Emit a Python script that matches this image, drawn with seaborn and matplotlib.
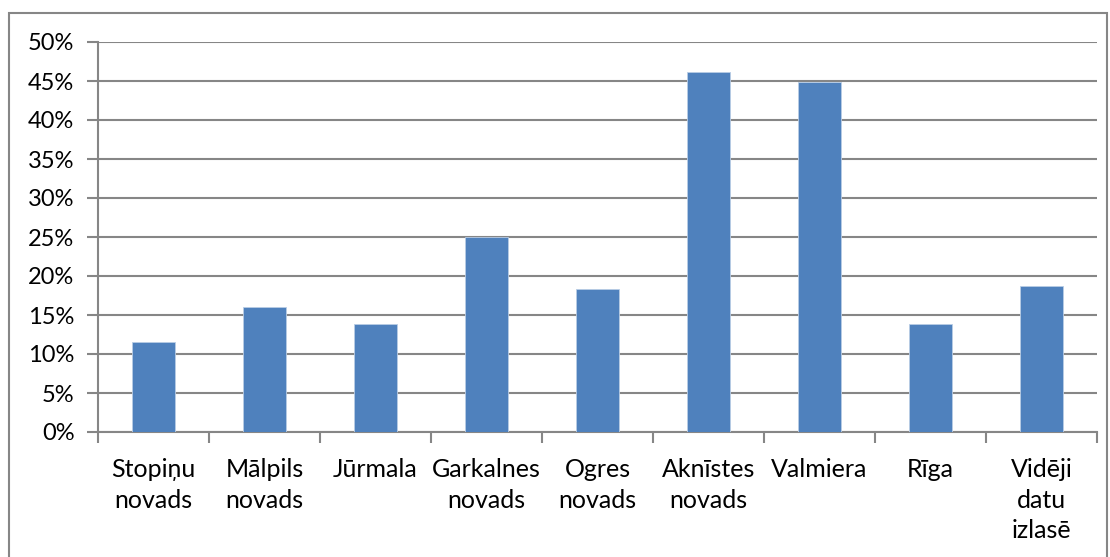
import matplotlib
matplotlib.use("Agg")
import matplotlib.pyplot as plt
from matplotlib.patches import Rectangle
from matplotlib.ticker import FixedLocator, PercentFormatter
import seaborn as sns
import pandas as pd

categories = ["Stopiņu\nnovads", "Mālpils\nnovads", "Jūrmala", "Garkalnes\nnovads",
              "Ogres\nnovads", "Aknīstes\nnovads", "Valmiera", "Rīga",
              "Vidēji\ndatu\nizlasē"]
shares = [0.115, 0.160, 0.139, 0.250, 0.183, 0.461, 0.449, 0.139, 0.187]
y_ticks = [0.0, 0.05, 0.10, 0.15, 0.20, 0.25, 0.30, 0.35, 0.40, 0.45, 0.50]

sns.set_theme(style="white")
plt.rcParams["font.family"] = ["Lato", "DejaVu Sans"]

grey = "#868686"
bar_color = "#4F81BD"

df = pd.DataFrame({"region": categories, "share": shares})

fig = plt.figure(figsize=(11.10, 5.57), dpi=100)
ax = fig.add_axes([98 / 1110, 1 - 432 / 557, (1097 - 98) / 1110, (432 - 42) / 557])

sns.barplot(data=df, x="region", y="share", color=bar_color, saturation=1,
            width=0.39, ax=ax, zorder=3, edgecolor="#B9CDE5", linewidth=0.6)

ax.set_xlim(-0.5, len(categories) - 0.5)
ax.set_ylim(0, 0.5)
ax.yaxis.set_major_locator(FixedLocator(y_ticks))
ax.yaxis.set_major_formatter(PercentFormatter(1.0, decimals=0))
ax.grid(axis="y", color=grey, linewidth=1.5, zorder=0)
ax.set_axisbelow(True)

for side in ["top", "right"]:
    ax.spines[side].set_visible(False)
for side in ["left", "bottom"]:
    ax.spines[side].set_color(grey)
    ax.spines[side].set_linewidth(1.5)

ax.set_xlabel("")
ax.set_ylabel("")
ax.tick_params(axis="y", which="major", length=8, width=1.5, color=grey,
               labelsize=17, pad=9, labelcolor="black", left=True)
ax.tick_params(axis="x", which="major", length=0, labelsize=18, pad=19,
               labelcolor="black")
ax.xaxis.set_minor_locator(FixedLocator([i - 0.5 for i in range(len(categories) + 1)]))
ax.tick_params(axis="x", which="minor", length=8, width=1.5, color=grey, bottom=True)
for lbl in ax.get_xticklabels():
    lbl.set_linespacing(1.38)
    lbl.set_verticalalignment("top")

# outer chart border
fig.patches.append(Rectangle((9 / 1110, -0.02), (1107 - 9) / 1110, 1.02 - 13 / 557,
                             transform=fig.transFigure, fill=False,
                             edgecolor=grey, linewidth=1.5))

fig.savefig("out.png", dpi=100)
